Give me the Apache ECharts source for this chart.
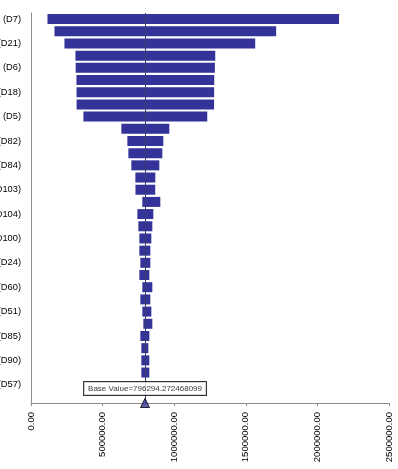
<!DOCTYPE html>
<html>
<head>
<meta charset="UTF-8">
<title>Tornado - Base Value</title>
<script src="https://cdn.jsdelivr.net/npm/echarts@6/dist/echarts.min.js"></script>
<style>
    html, body { margin: 0; padding: 0; background: #fff; }
    #main { width: 398px; height: 469px; }
</style>
</head>
<body>
<div id="main"></div>
<script type="text/javascript">
    // rows top -> bottom, only every other label is drawn
    var names = ['(D7)', '', '(D21)', '', '(D6)', '', '(D18)', '', '(D5)', '', '(D82)', '', '(D84)', '', '(D103)', '',
                 '(D104)', '', '(D100)', '', '(D24)', '', '(D60)', '', '(D51)', '', '(D85)', '', '(D90)', '', '(D57)', ''];
    // (D57) row sits under the base value box, nothing of it shows
    var lows  = [115100, 163900, 233600, 310300, 312000, 317300, 318000, 318500, 366100, 631100, 672900, 679900,
                 700800, 728700, 729500, 777500, 742700, 749600, 756600, 756600, 763600, 756600, 777500, 763600,
                 777500, 784500, 763600, 770600, 770600, 770600, null, null];
    var highs = [2151300, 1712000, 1565600, 1286600, 1284000, 1279600, 1279000, 1278500, 1230800, 965800, 924000, 917000,
                 896100, 868200, 867500, 903100, 854300, 847300, 840300, 833300, 833300, 826300, 847300, 833300,
                 840300, 847300, 826300, 819400, 826300, 826300, null, null];
    var baseValue = 796294.272468099;
    var xMin = 0, xMax = 2500000, xStep = 500000;

    var spans = [];
    for (var i = 0; i < lows.length; i++) {
        spans.push(lows[i] == null ? null : highs[i] - lows[i]);
    }

    var myChart = echarts.init(document.getElementById('main'));
    var font = 'Liberation Sans, Arial, sans-serif';

    var option = {
        animation: false,
        grid: { left: 31, right: 9, top: 13, bottom: 66, containLabel: false, outerBoundsMode: 'none' },
        xAxis: {
            type: 'value',
            min: xMin, max: xMax, interval: xStep,
            splitLine: { show: false },
            axisLine: { show: true, lineStyle: { color: '#8c8c8c', width: 1 } },
            axisTick: { show: true, length: 3, lineStyle: { color: '#8c8c8c' } },
            axisLabel: {
                rotate: 90, margin: 9, color: '#000', fontSize: 9.5, fontFamily: font,
                formatter: function (v) { return v.toFixed(2); }
            }
        },
        yAxis: [
            {
                type: 'category',
                data: names,
                inverse: true,
                axisLine: { show: true, lineStyle: { color: '#8c8c8c', width: 1 } },
                axisTick: { show: false },
                axisLabel: { interval: 1, margin: 10, color: '#000', fontSize: 9.3, fontFamily: font },
                splitLine: { show: false }
            },
            { type: 'value', min: 0, max: 1, show: false }
        ],
        series: [
            {
                name: 'low', type: 'bar', stack: 'tornado', data: lows,
                barWidth: 10, silent: true, z: 2,
                itemStyle: { color: 'transparent' }
            },
            {
                name: 'range', type: 'bar', stack: 'tornado', data: spans,
                barWidth: 10, silent: true, z: 2,
                itemStyle: { color: '#333399' },
                markLine: {
                    silent: true, symbol: 'none', z: 3,
                    label: { show: false },
                    lineStyle: { color: '#3c3c6e', width: 1, type: 'solid' },
                    data: [{ xAxis: baseValue }]
                }
            },
            {
                name: 'base', type: 'scatter', yAxisIndex: 1, z: 20,
                data: [[baseValue, 0]],
                symbol: 'triangle', symbolSize: [9, 9],
                itemStyle: { color: '#333399', borderColor: '#000', borderWidth: 1 },
                label: {
                    show: true, position: 'top', distance: 3,
                    formatter: 'Base Value=' + baseValue,
                    color: '#000', fontSize: 8, fontFamily: font,
                    backgroundColor: '#fff', borderColor: '#000', borderWidth: 1,
                    padding: [3, 4, 2, 4]
                }
            }
        ]
    };

    myChart.setOption(option);
</script>
</body>
</html>
